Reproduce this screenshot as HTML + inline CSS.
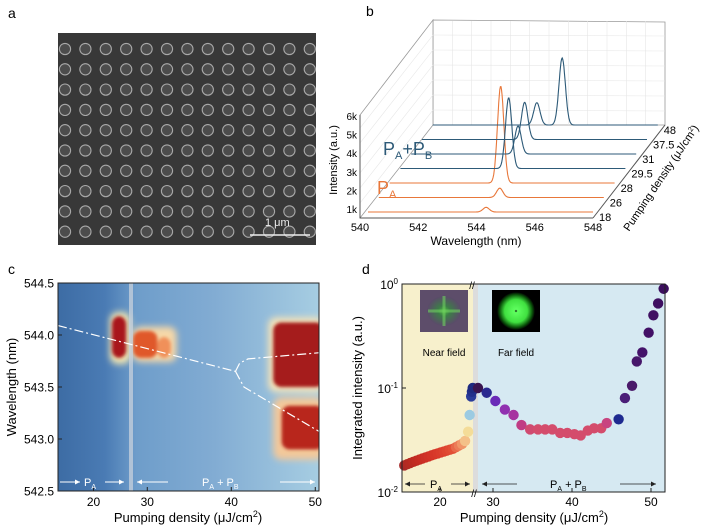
<!DOCTYPE html>
<html><head><meta charset="utf-8"><style>
body{margin:0;background:#fff}
svg{display:block;font-family:"Liberation Sans",sans-serif}
</style></head><body>
<svg id="fig" width="703" height="527" viewBox="0 0 703 527">
<defs>
<filter id="blur3" x="-50%" y="-50%" width="200%" height="200%"><feGaussianBlur stdDeviation="3.5"/></filter>
<filter id="blur2" x="-50%" y="-50%" width="200%" height="200%"><feGaussianBlur stdDeviation="1.5"/></filter>
<linearGradient id="hmbg" x1="0" x2="1" y1="0" y2="0">
<stop offset="0" stop-color="#3d6ca4"/><stop offset="0.18" stop-color="#4a7bb4"/><stop offset="0.3" stop-color="#6e9dca"/><stop offset="0.6" stop-color="#82acd3"/><stop offset="1" stop-color="#a6cde2"/></linearGradient>
<radialGradient id="nf"><stop offset="0" stop-color="#4fbf3f"/><stop offset="0.35" stop-color="#3d7d48"/><stop offset="1" stop-color="#5b4a6a"/></radialGradient>
<radialGradient id="ff"><stop offset="0" stop-color="#000"/><stop offset="0.08" stop-color="#5fff5f"/><stop offset="0.6" stop-color="#40e040"/><stop offset="0.85" stop-color="#0c5a0c"/><stop offset="1" stop-color="#000"/></radialGradient>
</defs>

<text x="8" y="18" font-size="14">a</text>
<text x="366" y="16" font-size="14">b</text>
<text x="8" y="274" font-size="14">c</text>
<text x="362" y="274" font-size="14">d</text>

<g id="pa">
<rect x="58" y="33" width="258" height="212" fill="#383838"/>
</g>
<g>
<line x1="250" y1="235" x2="310" y2="235" stroke="#eee" stroke-width="1.5"/>
<text x="265" y="226" font-size="11" fill="#eee">1 μm</text>
</g>

<g id="pb"></g>
<g id="pc"></g>
<g id="pd"></g>
</svg>
<script>
// ---------- Panel b data ----------
const bDensities = ["18","26","28","29.5","31","37.5","48"];
const bPeakWl = [[544.2],[544.3],[543.95],[543.85],[543.8],[543.65],[543.7,544.6]];
const bPeakAmp = [[0.25],[0.5],[5.2],[3.8],[1.5],[2.0],[1.2,3.6]];
const bTicksX = [540,542,544,546,548];
const bTicksY = ["1k","2k","3k","4k","5k","6k"];
// ---------- Panel c data ----------
const cTicksX = [20,30,40,50];
const cTicksY = [542.5,543.0,543.5,544.0,544.5];
const cModeLine = [[15,544.09],[40.5,543.65]];
const cUpper = [[40.5,543.65],[41,543.73],[42,543.77],[50.5,543.83]];
const cLower = [[40.5,543.65],[41.5,543.5],[50.5,543.07]];
// emission regions: [density start, density end, wl top, wl bottom, color, glow]
const cRegions = [
[22.3,25.2,544.22,543.72,"#f3e6b0",1],[22.6,24.6,544.18,543.78,"#a8191a",0],
[28.3,33.5,544.08,543.74,"#f6d8a8",1],[28.3,31.2,544.04,543.78,"#e0582a",0],[31.2,32.8,543.98,543.78,"#f0905a",0],
[44.4,51,544.17,543.45,"#f4e2b8",1],[45,51,544.12,543.5,"#a51b1a",0],
[45,51,543.4,542.8,"#f3c89a",1],[46,51,543.32,542.9,"#b8281d",0]];
// ---------- Panel d data ----------
const dLeftX = [15.3,15.7,16.1,16.5,16.9,17.3,17.7,18.1,18.5,18.9,19.3,19.7,20.1,20.5,20.9,21.3,21.7,22.1,22.5,22.9,23.3,23.7,23.9,24.1,24.2,24.3];
const dLeftY = [0.018,0.0185,0.019,0.0195,0.02,0.0205,0.021,0.0215,0.022,0.0225,0.023,0.0235,0.024,0.0245,0.025,0.0255,0.026,0.027,0.028,0.029,0.031,0.038,0.055,0.083,0.092,0.1];
const dRightX = [28.1,29.2,30.3,31.5,32.6,33.6,34.7,35.7,36.6,37.5,38.5,39.4,40.3,41.1,42,42.8,43.7,44.4,45.9,46.7,47.6,48.2,48.9,49.7,50.3,50.9,51.6];
const dRightY = [0.1,0.09,0.075,0.062,0.055,0.044,0.04,0.04,0.04,0.04,0.037,0.037,0.036,0.035,0.039,0.041,0.041,0.046,0.05,0.08,0.105,0.18,0.22,0.34,0.5,0.65,0.9,1.0];
const dTicksX = [20,30,40,50];
const dTicksY = [["10","0",0],["10","-1",-1],["10","-2",-2]];
const NS="http://www.w3.org/2000/svg";
function mk(parent,tag,attrs,name,inter){const e=document.createElementNS(NS,tag);for(const k in attrs)e.setAttribute(k,attrs[k]);


parent.appendChild(e);return e;}
function txt(parent,x,y,s,size,name,extra){const t=mk(parent,'text',Object.assign({x:x,y:y,'font-size':size},extra||{}),name,false);t.textContent=s;return t;}

const pa=document.getElementById('pa');
for(let r=0;r<10;r++)for(let c=0;c<13;c++){
 const cx=65+c*20.4, cy=49+r*20.3;
 const el=document.createElementNS(NS,'circle');
 el.setAttribute('cx',cx);el.setAttribute('cy',cy);el.setAttribute('r',5.6);
 el.setAttribute('fill','#4c4c4c');el.setAttribute('stroke','#a8a8a8');el.setAttribute('stroke-width','1.1');
 
 
 pa.appendChild(el);}

// ---------- Panel b ----------
const pb=document.getElementById('pb');
mk(pb,'polygon',{points:"433,20 665,22 665,125 433,125",fill:"#fff",stroke:"#999","stroke-width":0.8},'back-wall',false);
mk(pb,'polygon',{points:"433,20 433,125 360,218 360,115",fill:"#fff",stroke:"#999","stroke-width":0.8},'side-wall',false);
for(let i=1;i<12;i++){const x=433+i*232/12;mk(pb,'line',{x1:x,y1:21,x2:x,y2:125,stroke:"#e6e6e6","stroke-width":0.6},'grid-line',false);}
for(let i=1;i<7;i++){const y=20+i*15;mk(pb,'line',{x1:433,y1:y,x2:665,y2:y+1,stroke:"#e6e6e6","stroke-width":0.6},'grid-line',false);
 mk(pb,'line',{x1:433,y1:y,x2:360,y2:y+93,stroke:"#e6e6e6","stroke-width":0.6},'grid-line',false);}
mk(pb,'line',{x1:360,y1:218,x2:593,y2:218,stroke:"#555","stroke-width":1},'x-axis',false);
mk(pb,'line',{x1:593,y1:218,x2:665,y2:125,stroke:"#555","stroke-width":1},'depth-axis',false);
mk(pb,'line',{x1:360,y1:115,x2:360,y2:218,stroke:"#555","stroke-width":1},'y-axis',false);
const bx0=368,bW=225,by0=212;
function bX(i,wl){return bx0+i*10.8+(wl-540)/8*bW;}
function bY(i,v){return by0-i*14.5-v*18.6;}
bDensities.forEach((d,i)=>{
 let pts=[];
 for(let k=0;k<=400;k++){const wl=540+k*8/400;let v=0;
  bPeakWl[i].forEach((p,j)=>{v+=bPeakAmp[i][j]*Math.exp(-Math.pow((wl-p)/0.16,2));});
  pts.push(bX(i,wl).toFixed(1)+","+bY(i,v).toFixed(1));}
 mk(pb,'polyline',{points:pts.join(" "),fill:"none",stroke:i<3?"#e8773a":"#2d5a78","stroke-width":1.1},'spectrum-'+d,false);
 txt(pb,599+i*10.8,218-i*14.5+3,d,11,'density-label-'+d);
});
bTicksX.forEach(t=>{const x=360+(t-540)/8*233;txt(pb,x,231,String(t),11,'x-tick-'+t,{'text-anchor':'middle'});});
bTicksY.forEach((t,i)=>{txt(pb,357,213-i*18.6,t,10,'y-tick-'+t,{'text-anchor':'end'});});
txt(pb,476,245,"Wavelength (nm)",12,'x-axis-title',{'text-anchor':'middle'});
txt(pb,0,0,"Intensity (a.u.)",11,'y-axis-title',{'text-anchor':'middle',transform:'translate(337,160) rotate(-90)'});
txt(pb,0,0,"",11,'depth-axis-title',{'text-anchor':'middle',transform:'translate(664,180) rotate(-56)'}).innerHTML='Pumping density (μJ/cm<tspan font-size="7" dy="-4">2</tspan><tspan dy="4">)</tspan>';
const lb1=txt(pb,383,155,"P",18,'legend-pa-pb',{fill:'#2d5a78'});lb1.innerHTML='P<tspan font-size="11" dy="4">A</tspan><tspan dy="-4">+P</tspan><tspan font-size="11" dy="4">B</tspan>';
const lb2=txt(pb,377,194,"P",18,'legend-pa',{fill:'#e8773a'});lb2.innerHTML='P<tspan font-size="11" dy="4">A</tspan>';

// ---------- Panel c ----------
const pc=document.getElementById('pc');
const cL=58,cR=319,cT=283,cB=491;
function cx(v){return v<=25.3? 58+(v-15)*7.1 : 133+(v-28.3)*8.4;}
function cy(w){return cT+(544.5-w)/2*(cB-cT);}
mk(pc,'rect',{x:cL,y:cT,width:cR-cL,height:cB-cT,fill:"url(#hmbg)"},'heatmap-background',false);
const clip=mk(pc,'clipPath',{id:'cclip'},'clip',false);
mk(clip,'rect',{x:cL,y:cT,width:cR-cL,height:cB-cT},'clip-rect',false);
const gAll=mk(pc,'g',{'clip-path':'url(#cclip)'},'lasing-emission',false);
const gBl=mk(gAll,'g',{filter:"url(#blur3)"},'lasing-glow',false);
const gBl2=mk(gAll,'g',{filter:"url(#blur2)"},'lasing-core',false);
cRegions.forEach(b=>{const x0=cx(b[0]),x1=cx(b[1]),y0=cy(b[2]),y1=cy(b[3]);
 mk(b[5]?gBl:gBl2,'rect',{x:x0,y:y0,width:x1-x0,height:y1-y0,rx:Math.min(8,(x1-x0)/2),ry:8,fill:b[4]},'emission-region',false);});
mk(pc,'rect',{x:129,y:cT,width:4,height:cB-cT,fill:"#c8d2dc",opacity:0.75},'axis-break-band',false);
function pl(arr){return arr.map(p=>cx(p[0]).toFixed(1)+","+cy(p[1]).toFixed(1)).join(" ");}
[cModeLine,cUpper,cLower].forEach((a,i)=>mk(pc,'polyline',{points:pl(a),fill:"none",stroke:"#fff","stroke-width":1.2,"stroke-dasharray":"9 3 2 3"},'mode-trend-'+i,false));
mk(pc,'rect',{x:cL,y:cT,width:cR-cL,height:cB-cT,fill:"none",stroke:"#222","stroke-width":1},'plot-frame',false);
cTicksY.forEach(t=>{const y=cy(t);mk(pc,'line',{x1:cL,y1:y,x2:cL+4,y2:y,stroke:"#222"},'y-tick',false);txt(pc,54,y+4.5,t.toFixed(1),12,'y-tick-label',{'text-anchor':'end'});});
cTicksX.forEach(t=>{const x=cx(t);mk(pc,'line',{x1:x,y1:cB,x2:x,y2:cB-4,stroke:"#222"},'x-tick',false);txt(pc,x,506,String(t),12,'x-tick-label',{'text-anchor':'middle'});});
txt(pc,188,522,"",13,'x-axis-title',{'text-anchor':'middle'}).innerHTML='Pumping density (μJ/cm<tspan font-size="9" dy="-5">2</tspan><tspan dy="5">)</tspan>';
txt(pc,0,0,"Wavelength (nm)",13,'y-axis-title',{'text-anchor':'middle',transform:'translate(16,387) rotate(-90)'});
const cArr=[[60,80,1],[105,124,0],[168,137,1],[280,315,0]];
cArr.forEach(a=>{mk(pc,'line',{x1:a[0],y1:482,x2:a[1],y2:482,stroke:"#fff","stroke-width":1},'range-arrow',false);
 const d=a[1]>a[0]?-1:1;mk(pc,'polygon',{points:`${a[1]},482 ${a[1]+d*5},479.5 ${a[1]+d*5},484.5`,fill:"#fff"},'arrow-head',false);});
txt(pc,84,486,"",11,'pa-label',{fill:'#fff'}).innerHTML='P<tspan font-size="7" dy="3">A</tspan>';
txt(pc,202,486,"",11,'pa-pb-label',{fill:'#fff'}).innerHTML='P<tspan font-size="7" dy="3">A</tspan><tspan dy="-3"> + P</tspan><tspan font-size="7" dy="3">B</tspan>';

// ---------- Panel d ----------
const pd=document.getElementById('pd');
const dL=402,dR=665,dT=284,dB=492;
function dx(v){return v<=25? 402+(v-15)*7.6 : 478+(v-28.1)*7.9;}
function dy(v){return dT-Math.log10(v)*104;}
mk(pd,'rect',{x:dL,y:dT,width:71,height:dB-dT,fill:"#f7f0cc"},'pa-region',false);
mk(pd,'rect',{x:473,y:dT,width:5,height:dB-dT,fill:"#dcdcdc"},'axis-break-band',false);
mk(pd,'rect',{x:478,y:dT,width:dR-478,height:dB-dT,fill:"#d6e9f2"},'pa-pb-region',false);
mk(pd,'rect',{x:420,y:290,width:48,height:42,fill:"#5d4d6a"},'near-field-image-bg',false);
mk(pd,'ellipse',{cx:444,cy:311,rx:17,ry:15,fill:"url(#nf)"},'near-field-image',false);
mk(pd,'line',{x1:428,y1:311,x2:460,y2:311,stroke:"#6fd060","stroke-width":3,opacity:0.6},'near-field-streak',false);
mk(pd,'line',{x1:444,y1:296,x2:444,y2:326,stroke:"#6fd060","stroke-width":3,opacity:0.6},'near-field-streak',false);
mk(pd,'rect',{x:492,y:290,width:48,height:42,fill:"#000"},'far-field-image-bg',false);
mk(pd,'circle',{cx:516,cy:311,r:19,fill:"url(#ff)"},'far-field-image',false);
txt(pd,444,356,"Near field",10,'near-field-label',{'text-anchor':'middle'});
txt(pd,516,356,"Far field",10,'far-field-label',{'text-anchor':'middle'});
const leftCols=["#a52a2a","#b02a24","#b52a22","#bb2b22","#c02c22","#c52d23","#c92e24","#cc3025","#d03226","#d33427","#d63628","#d8392a","#da3c2c","#dc402e","#de4530","#e04a33","#e24f36","#e8684a","#ec7c58","#f09568","#f4c088","#f4dc98","#9ccbe2","#2a3c9a","#22308c","#1e2a80"];
const rightCols=["#3a1450","#2a2a90","#6a2ab8","#9030b0","#a634a0","#c03c84","#d04a70","#d44c6c","#d44c6c","#d44c6c","#d44c6c","#d44c6c","#d44c6c","#d44c6c","#d44c6c","#d44c6c","#d44c6c","#c84480","#1e2a90","#4a1e78","#4a1a6a","#46166a","#44126a","#421066","#401062","#3e0e60","#3c0e5e"];
dLeftX.forEach((x,i)=>{mk(pd,'circle',{cx:dx(x),cy:dy(dLeftY[i]),r:5.2,fill:leftCols[i]},'point-pa',false);});
dRightX.forEach((x,i)=>{mk(pd,'circle',{cx:dx(x),cy:dy(dRightY[i]),r:5.2,fill:rightCols[i]||"#3c0e5e"},'point-pa-pb',false);});
mk(pd,'rect',{x:dL,y:dT,width:dR-dL,height:dB-dT,fill:"none",stroke:"#222","stroke-width":1},'plot-frame',false);
dTicksY.forEach(t=>{const y=dT-t[2]*104;mk(pd,'line',{x1:dL,y1:y,x2:dL+4,y2:y,stroke:"#222"},'y-tick',false);
 txt(pd,398,y+5,"",12,'y-tick-label',{'text-anchor':'end'}).innerHTML='10<tspan font-size="8" dy="-5">'+t[1]+'</tspan>';});
dTicksX.forEach(t=>{const x=dx(t);mk(pd,'line',{x1:x,y1:dB,x2:x,y2:dB-4,stroke:"#222"},'x-tick',false);txt(pd,x,506,String(t),12,'x-tick-label',{'text-anchor':'middle'});});
txt(pd,534,522,"",13,'x-axis-title',{'text-anchor':'middle'}).innerHTML='Pumping density (μJ/cm<tspan font-size="9" dy="-5">2</tspan><tspan dy="5">)</tspan>';
txt(pd,0,0,"Integrated intensity (a.u.)",13,'y-axis-title',{'text-anchor':'middle',transform:'translate(362,388) rotate(-90)'});
const dArr=[[425,405,-1],[451,470,1],[517,482,-1],[620,656,1]];
dArr.forEach(a=>{mk(pd,'line',{x1:a[0],y1:484,x2:a[1],y2:484,stroke:"#222","stroke-width":0.8},'range-arrow',false);
 const d=a[1]>a[0]?-1:1;mk(pd,'polygon',{points:`${a[1]},484 ${a[1]+d*5},481.5 ${a[1]+d*5},486.5`,fill:"#222"},'arrow-head',false);});
txt(pd,430,488,"",11,'pa-label').innerHTML='P<tspan font-size="7" dy="3">A</tspan>';
txt(pd,550,488,"",11,'pa-pb-label').innerHTML='P<tspan font-size="7" dy="3">A</tspan><tspan dy="-3"> + P</tspan><tspan font-size="7" dy="3">B</tspan>';
txt(pd,472,289,"//",10,'axis-break-mark',{'text-anchor':'middle'});
txt(pd,474,497,"//",10,'axis-break-mark-bottom',{'text-anchor':'middle'});
</script>
</body></html>
